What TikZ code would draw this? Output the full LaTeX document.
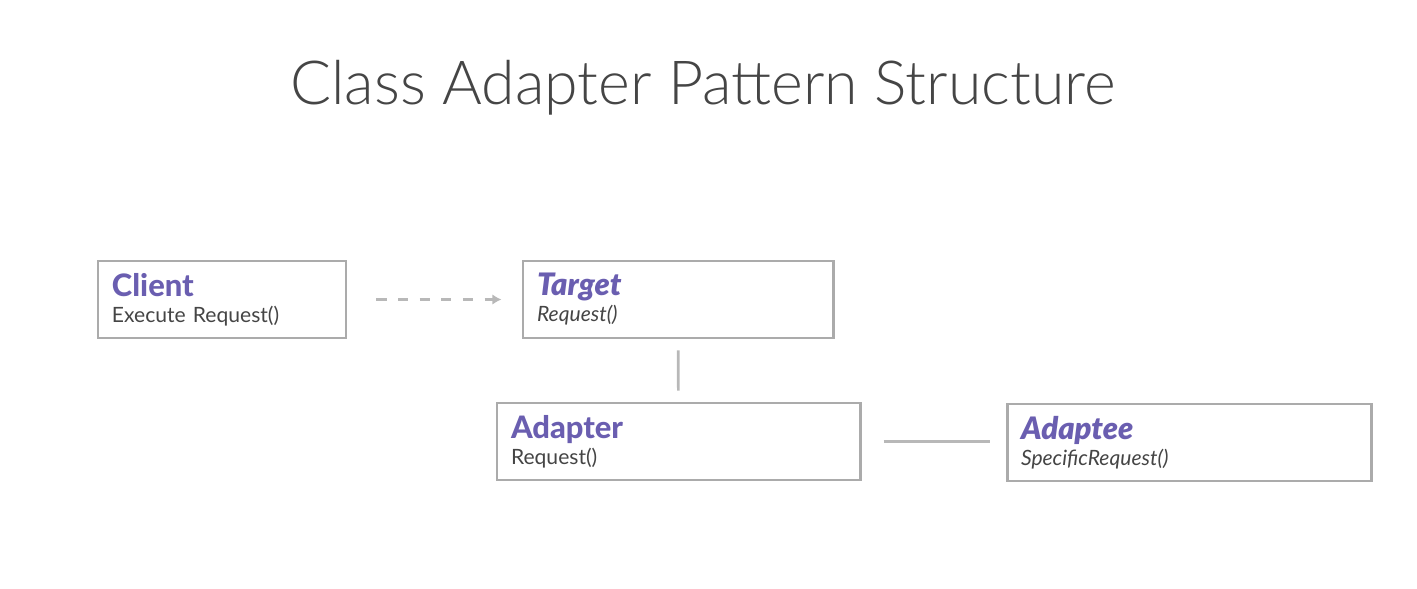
\documentclass[tikz,border=0pt]{standalone}
\usepackage{fontspec}
\setmainfont{Lato}
\newfontfamily\titlefont{Lato Light}
\newfontfamily\heavyfont{Lato Heavy}
\usetikzlibrary{arrows.meta, positioning}
\definecolor{purp}{HTML}{6A5EB0}
\definecolor{txtgray}{HTML}{454545}
\definecolor{boxgray}{HTML}{ABABAB}
\definecolor{linegray}{HTML}{B8B8B8}
\newcommand{\nm}[1]{{\heavyfont\fontsize{8.8}{8.8}\selectfont\color{purp}#1}}
\tikzset{
  box/.style={draw=boxgray, line width=0.85pt, inner xsep=0.14cm, align=left,
    minimum height=0.77cm, text=txtgray, font=\fontsize{6}{7.4}\selectfont},
  link/.style={draw=linegray, line width=0.75pt}
}
\begin{document}
\begin{tikzpicture}
  \useasboundingbox (0,0) rectangle (14.17,-5.89);

  \node [font=\titlefont\fontsize{17.3}{17.3}\selectfont, text=txtgray, anchor=base] (title) at (7.03,-1.05) {Class Adapter Pattern Structure};

  \node [box, text width=2.2cm] (client) at (2.22,-2.995) {\nm{Client}\\Execute Request()};
  \node [box, text width=2.82cm] (target) at (6.78,-2.995) {\nm{\itshape Target}\\\textit{Request()}};
  \node [box, text width=3.35cm] (adapter) at (6.785,-4.415) {\nm{Adapter}\\Request()};
  \node [box, text width=3.36cm] (adaptee) at (11.89,-4.425) {\nm{\itshape Adaptee}\\\textit{SpecificRequest()}};

  \draw [link, dash pattern=on 2.85pt off 3.3pt, -{Latex[length=2.6pt,width=3pt]}, shorten <=0.29cm, shorten >=0.2cm] (client) -- (target);
  \draw [link, shorten <=0.11cm, shorten >=0.11cm] (target) -- (adapter);
  \draw [link, shorten <=0.22cm, shorten >=0.16cm] (adapter) -- (adapter -| adaptee.west);
\end{tikzpicture}
\end{document}
